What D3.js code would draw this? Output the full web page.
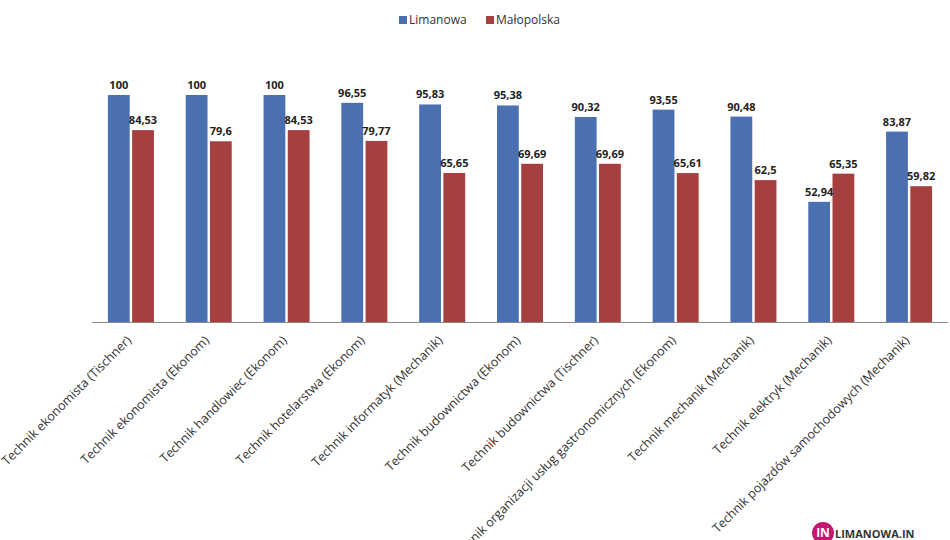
<!DOCTYPE html>
<html>
<head>
<meta charset="utf-8">
<script src="https://cdn.jsdelivr.net/npm/d3@7"></script>
<style>
  body { margin: 0; background: #fff; }
  svg { display: block; font-family: 'Open Sans', 'Liberation Sans', sans-serif; }
</style>
</head>
<body>
<div class="chart"></div>
<script>
const categories = [
  'Technik ekonomista (Tischner)',
  'Technik ekonomista (Ekonom)',
  'Technik handlowiec (Ekonom)',
  'Technik hotelarstwa (Ekonom)',
  'Technik informatyk (Mechanik)',
  'Technik budownictwa (Ekonom)',
  'Technik budownictwa (Tischner)',
  'Technik organizacji usług gastronomicznych (Ekonom)',
  'Technik mechanik (Mechanik)',
  'Technik elektryk  (Mechanik)',
  'Technik pojazdów samochodowych  (Mechanik)'
]
const limanowa = [100, 100, 100, 96.55, 95.83, 95.38, 90.32, 93.55, 90.48, 52.94, 83.87]
const malopolska = [84.53, 79.6, 84.53, 79.77, 65.65, 69.69, 69.69, 65.61, 62.5, 65.35, 59.82]
const seriesNames = ['Limanowa', 'Małopolska']
const colors = ['#4a70b1', '#a5403f']

const width = 950
const height = 540
const margin = {top: 95, right: 2, bottom: 218, left: 92}

const svg = d3
  .select('.chart')
  .append('svg')
  .attr('width', width)
  .attr('height', height)

const x = d3
  .scaleBand()
  .domain(categories)
  .range([margin.left, width - margin.right])

const x1 = d3
  .scaleBand()
  .domain(seriesNames)
  .range([0, 46])
  .paddingInner(0.1)

const y = d3
  .scaleLinear()
  .domain([0, 100])
  .range([height - margin.bottom, margin.top])

const fmt = v => String(v).replace('.', ',')

const data = categories.map((c, i) => ({
  cat: c,
  vals: [
    {name: seriesNames[0], value: limanowa[i], color: colors[0]},
    {name: seriesNames[1], value: malopolska[i], color: colors[1]}
  ]
}))

const groups = svg
  .selectAll('.group')
  .data(data)
  .enter()
  .append('g')
  .attr('class', 'group')
  .attr('transform', d => 'translate(' + (x(d.cat) + (x.bandwidth() - 46) / 2) + ',0)')

groups
  .selectAll('rect')
  .data(d => d.vals)
  .enter()
  .append('rect')
  .attr('x', d => x1(d.name))
  .attr('width', x1.bandwidth())
  .attr('y', d => y(d.value))
  .attr('height', d => y(0) - y(d.value))
  .style('fill', d => d.color)

groups
  .selectAll('text')
  .data(d => d.vals)
  .enter()
  .append('text')
  .attr('x', d => x1(d.name) + x1.bandwidth() / 2)
  .attr('y', d => y(d.value) - 6)
  .style('text-anchor', 'middle')
  .style('font-size', '11px')
  .style('font-weight', 'bold')
  .style('fill', '#222')
  .text(d => fmt(d.value))

// x axis
const xAxis = svg
  .append('g')
  .attr('transform', 'translate(0,' + y(0) + ')')
  .call(d3.axisBottom(x).tickSize(0).tickPadding(0))

xAxis.select('.domain').attr('stroke', '#888').attr('d', 'M' + margin.left + ',0.5H' + (width - margin.right))

xAxis
  .selectAll('.tick text')
  .attr('transform', 'translate(-2,16) rotate(-45)')
  .attr('dy', '0.35em')
  .style('text-anchor', 'end')
  .style('font-size', '12.5px')
  .style('font-family', "'Open Sans', sans-serif")
  .style('fill', '#333')

// legend
const legend = svg
  .append('g')
  .attr('transform', 'translate(399,14)')

const legendItems = legend
  .selectAll('g')
  .data(seriesNames)
  .enter()
  .append('g')
  .attr('transform', (d, i) => 'translate(' + i * 87 + ',0)')

legendItems
  .append('rect')
  .attr('width', 8)
  .attr('height', 8)
  .attr('y', 2)
  .style('fill', (d, i) => colors[i])

legendItems
  .append('text')
  .attr('x', 10)
  .attr('y', 10)
  .style('font-size', '12px')
  .style('fill', '#333')
  .text(d => d)

// logo watermark
const logo = svg.append('g').attr('transform', 'translate(823,533)')
logo.append('circle').attr('r', 11).style('fill', '#c4176f')
logo
  .append('text')
  .attr('x', 0)
  .attr('y', 4)
  .style('text-anchor', 'middle')
  .style('font-size', '12px')
  .style('font-weight', 'bold')
  .style('fill', '#fff')
  .text('IN')
logo
  .append('text')
  .attr('x', 12)
  .attr('y', 5)
  .style('font-size', '11px')
  .style('font-weight', 'bold')
  .style('fill', '#333')
  .text('LIMANOWA.IN')
</script>
</body>
</html>
